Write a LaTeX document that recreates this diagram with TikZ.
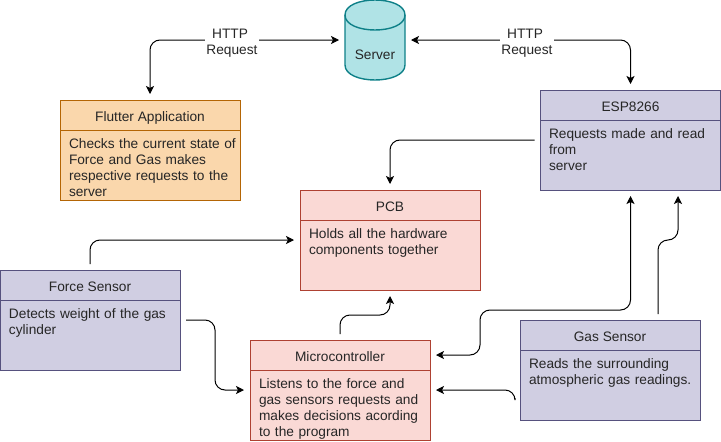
\documentclass[tikz,border=0pt]{standalone}
\usepackage{fontspec}
\setmainfont{Liberation Sans}
\usepackage{tikz}
\usetikzlibrary{calc, arrows.meta, positioning}

\definecolor{orangefill}{HTML}{FAD7AC}
\definecolor{orangeline}{HTML}{B46504}
\definecolor{purplefill}{HTML}{D0CEE2}
\definecolor{purpleline}{HTML}{56517E}
\definecolor{redfill}{HTML}{FAD9D5}
\definecolor{redline}{HTML}{AE4132}
\definecolor{tealfill}{HTML}{B0E3E6}
\definecolor{tealline}{HTML}{0E8088}

\tikzset{
  plain/.style={font=\fontsize{13.7}{16}\selectfont, text=black!85},
  box/.style={draw, rectangle, minimum width=180pt, minimum height=100pt, outer sep=0pt, inner sep=0pt},
  head/.style={plain, draw, rectangle, minimum width=180pt, minimum height=30pt, outer sep=0pt, inner sep=0pt, text height=12pt, text depth=0pt},
  txt/.style={plain, align=left, text width=178pt, inner xsep=0pt, inner ysep=3pt, outer sep=0pt, anchor=north west},
  orangebox/.style={draw=orangeline, fill=orangefill},
  purplebox/.style={draw=purpleline, fill=purplefill},
  redbox/.style={draw=redline, fill=redfill},
  link/.style={draw=black, line width=1pt, rounded corners=10pt, >={Stealth[length=8pt,width=8pt,inset=2pt]}, shorten <=6pt, shorten >=6pt},
  lbl/.style={plain, fill=white, align=center, inner xsep=1pt, inner ysep=0pt}
}

\begin{document}
\begin{tikzpicture}[x=1pt,y=-1pt]
\useasboundingbox (0,0) rectangle (721,442);

% server
\node [minimum width=60pt, minimum height=80pt, inner sep=0pt, outer sep=0pt] (server) at (375,40) {};
\draw [draw=tealline, fill=tealfill, line width=1.4pt] (345,15) .. controls (345,-5) and (405,-5) .. (405,15) -- (405,65) .. controls (405,85) and (345,85) .. (345,65) -- cycle;
\draw [draw=tealline, line width=1.4pt] (345,15) .. controls (345,35) and (405,35) .. (405,15);
\node [plain] (servertext) at (375,55) {Server};

% boxes
\node [box, orangebox] (flutter) at (150,150) {};
\node [head, orangebox, below=0pt of flutter.north] (flutterhead) {Flutter Application};
\node [txt] (fluttertext) at (69,136) {Checks the current state of\\Force and Gas makes\\respective requests to the\\server};

\node [box, purplebox] (esp) at (630.5,140) {};
\node [head, purplebox, below=0pt of esp.north] (esphead) {ESP8266};
\node [txt] (esptext) at (549,126) {Requests made and read\\from\\server};

\node [box, redbox] (pcb) at (390,240) {};
\node [head, redbox, below=0pt of pcb.north] (pcbhead) {PCB};
\node [txt] (pcbtext) at (309,226) {Holds all the hardware\\components together};

\node [box, purplebox] (force) at (90,320) {};
\node [head, purplebox, below=0pt of force.north] (forcehead) {Force Sensor};
\node [txt] (forcetext) at (9,306) {Detects weight of the gas\\cylinder};

\node [box, redbox] (micro) at (340,390) {};
\node [head, redbox, below=0pt of micro.north] (microhead) {Microcontroller};
\node [txt] (microtext) at (259,376) {Listens to the force and\\gas sensors requests and\\makes decisions acording\\to the program};

\node [box, purplebox] (gas) at (610,370) {};
\node [head, purplebox, below=0pt of gas.north] (gashead) {Gas Sensor};
\node [txt] (gastext) at (529,356) {Reads the surrounding\\atmospheric gas readings.};

% free ends
\coordinate (microup) at ($ (micro.north east) + (0,15) $);
\coordinate (gasleft) at ($ (gas.west) + (-5,28) $);
\coordinate (gastop) at ($ (gas.north) + (48,0) $);
\coordinate (espright) at ($ (esp.south) + (47.5,0) $);

% connectors
\draw [link, <->] (flutter.north) |- (server.west);
\draw [link, <->] (esp.north) |- (server.east);
\draw [link, ->] (esp.west) -| (pcb.north);
\draw [link, ->] (force.north) |- (pcb.west);
\draw [link, ->] (force.east) -- (215,320) |- (micro.west);
\draw [link, ->] (micro.north) |- (390,315) -- (pcb.south);
\draw [link, <->] (esp.south) |- (480,310) |- (microup);
\draw [link, ->, shorten <=0pt] (gasleft) |- (micro.east);
\draw [link, ->] (gastop) |- (678,240) -- (espright);

% labels
\node [lbl] (httpleft) at (232,43) {HTTP\hspace*{4pt}\\Request};
\node [lbl] (httpright) at (527,43) {HTTP\hspace*{4pt}\\Request};
\end{tikzpicture}
\end{document}
